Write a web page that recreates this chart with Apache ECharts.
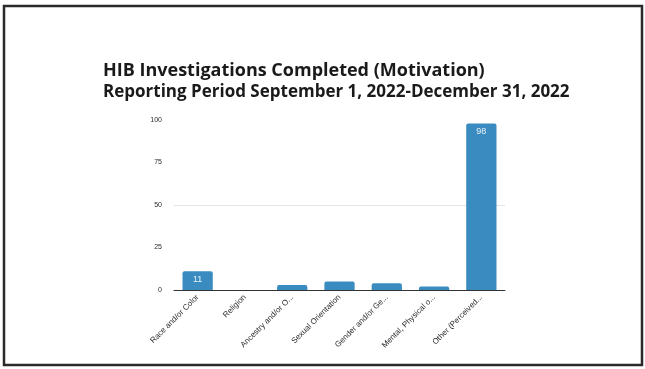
<!DOCTYPE html>
<html>
<head>
<meta charset="utf-8">
<script src="https://cdn.jsdelivr.net/npm/echarts@6/dist/echarts.min.js"></script>
<style>html,body{margin:0;padding:0;background:#fff;}#c{width:645px;height:369px;}</style>
</head>
<body>
<div id="c"></div>
<script>
const categories = ['Race and/or Color', 'Religion', 'Ancestry and/or O...', 'Sexual Orientation', 'Gender and/or Ge...', 'Mental, Physical o...', 'Other (Perceived...'];
const values = [11, 0, 3, 5, 4, 2, 98];
const shownLabels = [true, false, false, false, false, false, true];
const yTicks = [0, 25, 50, 75, 100];

const chart = echarts.init(document.getElementById('c'));
chart.setOption({
  animation: false,
  backgroundColor: '#fff',
  title: [
    { text: 'HIB Investigations Completed (Motivation)', left: 98, top: 57,
      textStyle: { fontFamily: 'Open Sans', fontWeight: 'bold', fontSize: 18, color: '#1a1a1a' } },
    { text: 'Reporting Period September 1, 2022-December 31, 2022', left: 98, top: 79,
      textStyle: { fontFamily: 'Open Sans', fontWeight: 'bold', fontSize: 17, color: '#1a1a1a' } }
  ],
  graphic: [
    { type: 'rect', shape: { x: 4, y: 6, width: 638, height: 359 }, style: { fill: 'none', stroke: '#2a2a2a', lineWidth: 2.5 }, z: 100 }
  ],
  grid: { left: 174, right: 140, top: 120, bottom: 79 },
  xAxis: {
    type: 'category',
    data: categories,
    axisTick: { show: false },
    axisLine: { lineStyle: { color: '#333', width: 1 } },
    axisLabel: { rotate: 45, interval: 0, fontFamily: 'Liberation Sans', fontSize: 8, color: '#2a2a2a', margin: 6 }
  },
  yAxis: {
    type: 'value',
    min: yTicks[0], max: yTicks[yTicks.length - 1], interval: 25,
    axisLine: { show: false }, axisTick: { show: false },
    axisLabel: { fontFamily: 'Liberation Sans', fontSize: 7, color: '#2a2a2a', margin: 12 },
    splitLine: { lineStyle: { color: ['rgba(0,0,0,0)', 'rgba(0,0,0,0)', '#e4e4e4', 'rgba(0,0,0,0)', 'rgba(0,0,0,0)'] } }
  },
  series: [{
    type: 'bar',
    data: values.map((v, i) => ({ value: v, label: { show: shownLabels[i] } })),
    barWidth: '64%',
    itemStyle: { color: '#3a8cc0', borderRadius: [2, 2, 0, 0] },
    label: { position: 'insideTop', color: '#e8f2f8', fontFamily: 'Liberation Sans', fontSize: 9, distance: 4 }
  }]
});
</script>
</body>
</html>
